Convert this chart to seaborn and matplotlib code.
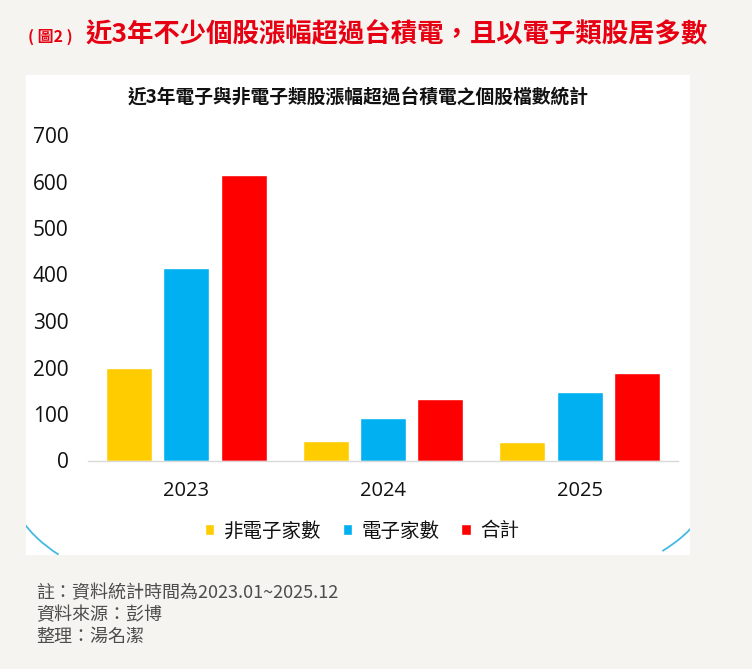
import numpy as np
import pandas as pd
import matplotlib
matplotlib.use("Agg")
import matplotlib.pyplot as plt
from matplotlib.patches import Rectangle, Arc
import seaborn as sns

# data
years = ["2023", "2024", "2025"]
series = ["非電子家數", "電子家數", "合計"]
non_elec = [198, 41, 40]
elec = [415, 92, 148]
total = [614, 133, 188]
colors = ["#FFCC00", "#00B0F0", "#FF0000"]
yticks = [0, 100, 200, 300, 400, 500, 600, 700]

df = pd.DataFrame({
    "year": years * 3,
    "series": np.repeat(series, 3),
    "value": non_elec + elec + total,
})

sns.set_theme(style="white")
plt.rcParams["font.family"] = ["Noto Sans CJK TC", "DejaVu Sans"]

W, H = 752, 669
fig = plt.figure(figsize=(W / 100, H / 100), dpi=100, facecolor="#F5F4F0")

# white panel behind the chart
panel = Rectangle((26 / W, (H - 555) / H), 664 / W, 480 / H, transform=fig.transFigure,
                  facecolor="white", edgecolor="none", zorder=0)
fig.add_artist(panel)

# light blue decorative arcs at the bottom corners
for cx, cy, r, t1, t2 in [(130, 440, 135, 218, 241), (590, 430, 141, 298, 318)]:
    arc = Arc((cx / W, (H - cy) / H), 2 * r / W, 2 * r / H, theta1=t1, theta2=t2,
              transform=fig.transFigure, color="#45B9E3", lw=1.3, zorder=1)
    arc.set_clip_path(panel)
    fig.add_artist(arc)

ax = fig.add_axes([88 / W, (H - 460.5) / H, 590 / W, 325.5 / H])
ax.set_facecolor("none")

sns.barplot(data=df, x="year", y="value", hue="series", hue_order=series,
            palette=dict(zip(series, colors)), width=0.877, gap=0.2,
            saturation=1, ax=ax)

ax.set_ylim(0, 700)
ax.set_yticks(yticks)
ax.set_xlabel("")
ax.set_ylabel("")
for s in ["top", "right", "left"]:
    ax.spines[s].set_visible(False)
ax.spines["bottom"].set_color("#D9D9D9")
ax.spines["bottom"].set_linewidth(1)
ax.tick_params(axis="x", length=0, pad=15, labelsize=14.5, labelcolor="#111111")
ax.tick_params(axis="y", length=0, pad=14, labelsize=15, labelcolor="#111111")
for lab in ax.get_xticklabels() + ax.get_yticklabels():
    lab.set_fontfamily(["Open Sans", "DejaVu Sans"])

sns.move_legend(ax, "center", bbox_to_anchor=(362 / W, (H - 531) / H),
                bbox_transform=fig.transFigure, ncol=3, frameon=False, title=None,
                fontsize=14, handlelength=0.48, handleheight=0.48,
                handletextpad=0.5, columnspacing=1.1)
for t in ax.get_legend().get_texts():
    t.set_color("#111111")

# titles
fig.text(28 / W, (H - 37) / H, "( 圖2 )", color="#E60012", fontsize=11.5,
         fontweight="bold", va="center", ha="left")
fig.text(86 / W, (H - 35) / H, "近3年不少個股漲幅超過台積電，且以電子類股居多數",
         color="#E60012", fontsize=19, fontweight="bold", va="center", ha="left")
fig.text(358 / W, (H - 98) / H, "近3年電子與非電子類股漲幅超過台積電之個股檔數統計",
         color="#111111", fontsize=13.5, fontweight="bold", va="center", ha="center")

# footnotes
notes = ["註：資料統計時間為2023.01~2025.12", "資料來源：彭博", "整理：湯名潔"]
for i, t in enumerate(notes):
    fig.text(36 / W, (H - 593 - 22 * i) / H, t, color="#4D4D4D", fontsize=13,
             va="center", ha="left")

fig.savefig("out.png", dpi=100, facecolor=fig.get_facecolor())
